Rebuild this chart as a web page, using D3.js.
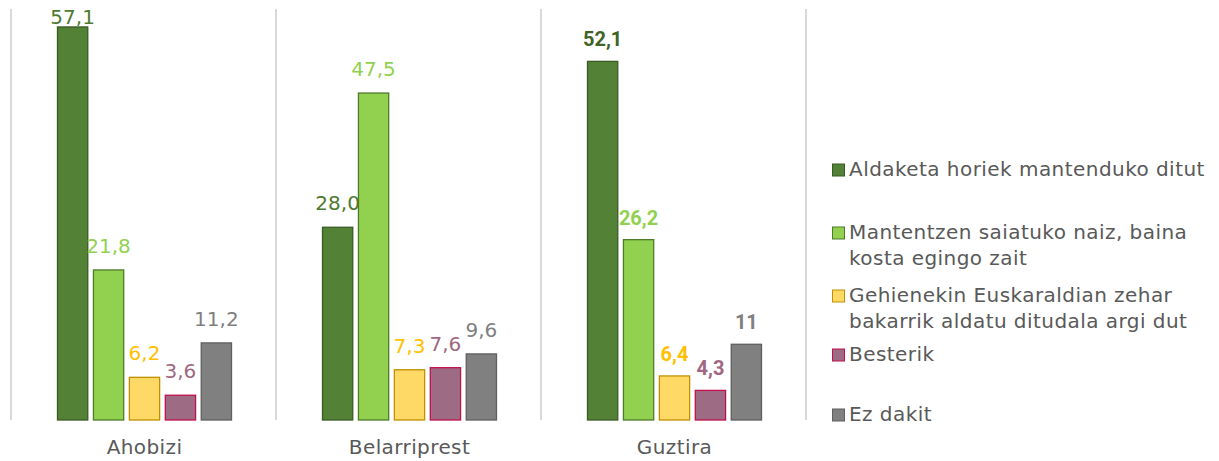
<!DOCTYPE html>
<html>
<head>
<meta charset="utf-8">
<script src="https://cdn.jsdelivr.net/npm/d3@7"></script>
<style>
  body { margin: 0; background: #fff; }
  #chart-area svg { display: block; }
</style>
</head>
<body>
<div id="chart-area"></div>
<script>
// Categories and series
const categories = ["Ahobizi", "Belarriprest", "Guztira"];
const seriesNames = [
  "Aldaketa horiek mantenduko ditut",
  "Mantentzen saiatuko naiz, baina kosta egingo zait",
  "Gehienekin Euskaraldian zehar bakarrik aldatu ditudala argi dut",
  "Besterik",
  "Ez dakit"
];
// values per category, in series order
const ahobiziValues = [57.1, 21.8, 6.2, 3.6, 11.2];
const belarriprestValues = [28.0, 47.5, 7.3, 7.6, 9.6];
const guztiraValues = [52.1, 26.2, 6.4, 4.3, 11];
const ahobiziLabels = ["57,1", "21,8", "6,2", "3,6", "11,2"];
const belarriprestLabels = ["28,0", "47,5", "7,3", "7,6", "9,6"];
const guztiraLabels = ["52,1", "26,2", "6,4", "4,3", "11"];
// legend lines (wrapped as in the picture)
const legendLines = [
  ["Aldaketa horiek mantenduko ditut"],
  ["Mantentzen saiatuko naiz, baina", "kosta egingo zait"],
  ["Gehienekin Euskaraldian zehar", "bakarrik aldatu ditudala argi dut"],
  ["Besterik"],
  ["Ez dakit"]
];

(function () {
  const width = 1219;
  const height = 461;

  const fills = ["#538135", "#92D050", "#FFD966", "#9E6B85", "#808080"];
  const strokes = ["#3A5B24", "#4E7A2B", "#BF9000", "#C0104A", "#5F5F5F"];
  const labelColors = ["#4E7A31", "#92D050", "#FFC000", "#A0677F", "#7F7F7F"];
  const boldColors = ["#3F6327", "#92D050", "#FFC000", "#A0677F", "#7F7F7F"];

  const rows = [
    { cat: categories[0], values: ahobiziValues, labels: ahobiziLabels, bold: false },
    { cat: categories[1], values: belarriprestValues, labels: belarriprestLabels, bold: false },
    { cat: categories[2], values: guztiraValues, labels: guztiraLabels, bold: true }
  ];

  const svg = d3.select("#chart-area")
    .append("svg")
    .attr("width", width)
    .attr("height", height);

  const x0 = d3.scaleBand().domain(categories).range([11, 806]);
  const x1 = d3.scaleBand().domain(seriesNames).range([46, 221]).paddingInner(0.13);
  const y = d3.scaleLinear().domain([0, 60]).range([420, 7]);

  // vertical separators
  const edges = categories.map(c => x0(c)).concat([x0.range()[1]]);
  svg.selectAll("line.sep")
    .data(edges)
    .enter().append("line")
    .attr("class", "sep")
    .attr("x1", d => d).attr("x2", d => d)
    .attr("y1", y(59.7)).attr("y2", y(0))
    .attr("stroke", "#D9D9D9")
    .attr("stroke-width", 2);

  const group = svg.selectAll("g.cat")
    .data(rows)
    .enter().append("g")
    .attr("class", "cat")
    .attr("transform", d => `translate(${x0(d.cat)},0)`);

  group.selectAll("rect")
    .data(d => d.values.map((v, i) => ({ v, i })))
    .enter().append("rect")
    .attr("x", d => x1(seriesNames[d.i]) + 0.5)
    .attr("y", d => y(d.v))
    .attr("width", x1.bandwidth() - 1)
    .attr("height", d => y(0) - y(d.v))
    .attr("fill", d => fills[d.i])
    .attr("stroke", d => strokes[d.i])
    .attr("stroke-width", 1.3);

  group.selectAll("text.val")
    .data(d => d.values.map((v, i) => ({ v, i, label: d.labels[i], bold: d.bold })))
    .enter().append("text")
    .attr("class", "val")
    .attr("x", d => x1(seriesNames[d.i]) + x1.bandwidth() / 2)
    .attr("y", d => Math.max(y(d.v) - (d.bold ? 15 : 17), 24))
    .attr("text-anchor", "middle")
    .attr("font-family", d => d.bold ? "Roboto, sans-serif" : "'DejaVu Sans', sans-serif")
    .attr("font-weight", d => d.bold ? "bold" : "normal")
    .attr("font-size", d => d.bold ? 20 : 20)
    .attr("fill", d => d.bold ? boldColors[d.i] : labelColors[d.i])
    .text(d => d.label);

  // category labels
  svg.selectAll("text.cat")
    .data(categories)
    .enter().append("text")
    .attr("class", "cat")
    .attr("x", d => x0(d) + x1.range()[0] + (x1.range()[1] - x1.range()[0]) / 2)
    .attr("y", 454)
    .attr("text-anchor", "middle")
    .attr("font-family", "'DejaVu Sans', sans-serif")
    .attr("font-size", 20)
    .attr("letter-spacing", 0.4)
    .attr("fill", "#595959")
    .text(d => d);

  // legend
  const legendY = [176, 239, 302, 361, 421];
  const legend = svg.selectAll("g.leg")
    .data(legendLines)
    .enter().append("g")
    .attr("class", "leg")
    .attr("transform", (d, i) => `translate(832,${legendY[i]})`);

  legend.append("rect")
    .attr("x", 0.5).attr("y", -12)
    .attr("width", 12).attr("height", 12)
    .attr("fill", (d, i) => fills[i])
    .attr("stroke", (d, i) => strokes[i])
    .attr("stroke-width", 1);

  legend.append("text")
    .attr("x", 17)
    .attr("y", 0)
    .attr("font-family", "'DejaVu Sans', sans-serif")
    .attr("font-size", 20)
    .attr("letter-spacing", 0.45)
    .attr("fill", "#595959")
    .selectAll("tspan")
    .data(d => d)
    .enter().append("tspan")
    .attr("x", 17)
    .attr("dy", (d, i) => i === 0 ? 0 : 26)
    .text(d => d);
})();
</script>
</body>
</html>
